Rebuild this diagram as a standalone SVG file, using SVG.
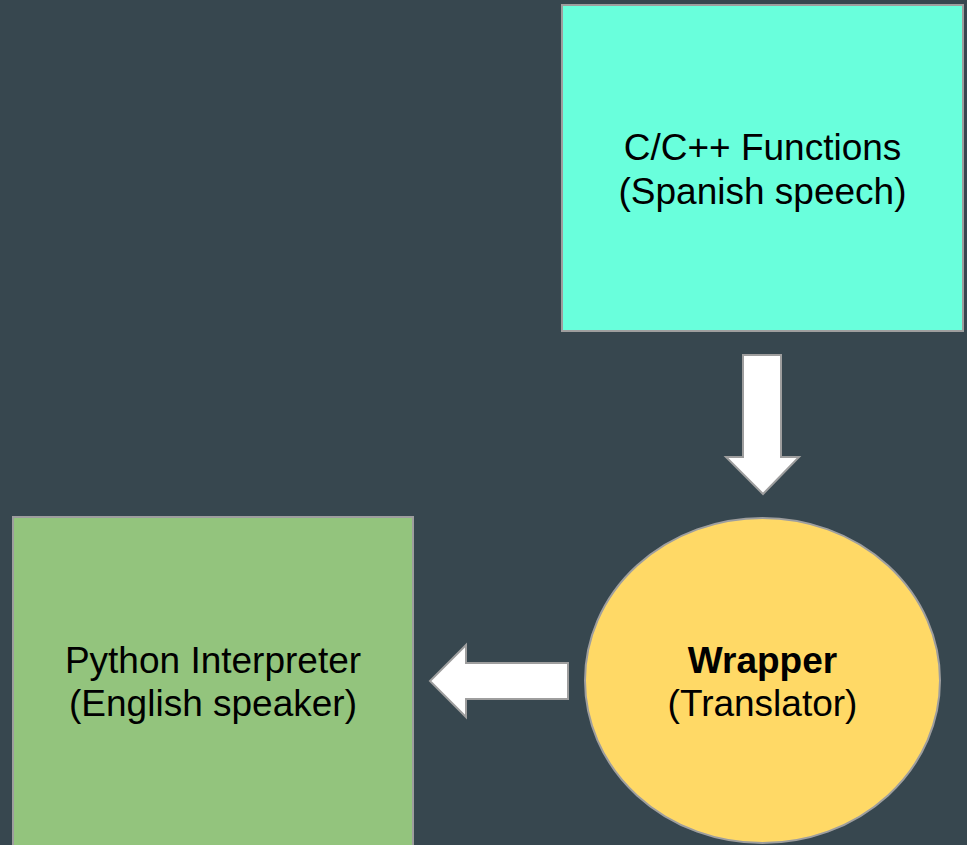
<svg xmlns="http://www.w3.org/2000/svg" width="967" height="845" viewBox="0 0 967 845">
<style>
.lbl{font-family:"Liberation Sans",Arial,sans-serif;font-size:37px;fill:#000;text-anchor:middle}
.b{font-weight:bold}
.shape{stroke:#9e9e9e;stroke-width:2}
.arrow{fill:#fff;stroke:#9e9e9e;stroke-width:2}
</style>
<rect width="967" height="845" fill="#37474f"/>
<g id="cfuncs">
<rect class="shape" x="562" y="5" width="401" height="326" fill="#69ffdc"/>
<text class="lbl" x="762.5" y="160">C/C++ Functions</text>
<text class="lbl" x="762.5" y="204">(Spanish speech)</text>
</g>
<g id="python">
<rect class="shape" x="13" y="517" width="400" height="340" fill="#93c47d"/>
<text class="lbl" x="213" y="673">Python Interpreter</text>
<text class="lbl" x="213" y="716">(English speaker)</text>
</g>
<g id="wrapper">
<ellipse class="shape" cx="762.5" cy="680.5" rx="177.5" ry="162.5" fill="#ffd966"/>
<text class="lbl b" x="762.5" y="673">Wrapper</text>
<text class="lbl" x="762.5" y="716">(Translator)</text>
</g>
<g id="connectors">
<polygon class="arrow" points="743,355 781,355 781,457 799,457 763,494 726,457 743,457"/>
<polygon class="arrow" points="568,663 568,699 466,699 466,717 430,681 466,645 466,663"/>
</g>
</svg>
